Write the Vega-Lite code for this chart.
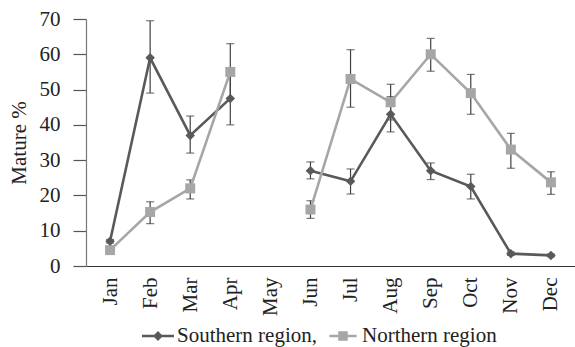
{
  "$schema": "https://vega.github.io/schema/vega-lite/v6.json",
  "width": 489,
  "height": 247,
  "autosize": "none",
  "padding": {"left": 86, "top": 19, "right": 0, "bottom": 81},
  "background": "white",
  "config": {
    "view": {"stroke": null},
    "font": "Liberation Serif",
    "axis": {"grid": false, "labelFont": "Liberation Serif", "titleFont": "Liberation Serif", "labelColor": "#222", "titleColor": "#222", "labelFontSize": 21, "titleFontSize": 21, "titleFontWeight": "normal", "labelOverlap": false},
    "axisX": {"labelAngle": -90, "labelAlign": "right", "labelBaseline": "middle", "labelPadding": 11, "ticks": false, "domainColor": "#333", "domainWidth": 1.2},
    "axisY": {"tickSize": 13, "labelPadding": 13, "titlePadding": 10, "domainColor": "#777", "tickColor": "#555", "tickWidth": 1.2, "domainWidth": 1.2, "tickCount": 8},
    "legend": {"labelFont": "Liberation Serif", "labelFontSize": 21, "labelColor": "#222", "labelOffset": 3, "columnPadding": 10, "padding": 0, "symbolSize": 1024, "symbolOpacity": 1, "symbolStrokeWidth": 0}
  },
  "data": {
    "values": [
      {"month": "Jan", "region": "Southern region", "value": 7, "lo": 6.5, "hi": 7.5},
      {"month": "Feb", "region": "Southern region", "value": 59, "lo": 49, "hi": 69.5},
      {"month": "Mar", "region": "Southern region", "value": 37, "lo": 32, "hi": 42.5},
      {"month": "Apr", "region": "Southern region", "value": 47.5, "lo": 40, "hi": 55},
      {"month": "May", "region": "Southern region", "value": null, "lo": null, "hi": null},
      {"month": "Jun", "region": "Southern region", "value": 27, "lo": 24.7, "hi": 29.5},
      {"month": "Jul", "region": "Southern region", "value": 24, "lo": 20.4, "hi": 27.5},
      {"month": "Aug", "region": "Southern region", "value": 43, "lo": 38, "hi": 48},
      {"month": "Sep", "region": "Southern region", "value": 27, "lo": 24.5, "hi": 29.2},
      {"month": "Oct", "region": "Southern region", "value": 22.5, "lo": 19, "hi": 26},
      {"month": "Nov", "region": "Southern region", "value": 3.5, "lo": 3, "hi": 4},
      {"month": "Dec", "region": "Southern region", "value": 3, "lo": 2.6, "hi": 3.4},
      {"month": "Jan", "region": "Northern region", "value": 4.5, "lo": 4, "hi": 5},
      {"month": "Feb", "region": "Northern region", "value": 15.3, "lo": 12, "hi": 18.2},
      {"month": "Mar", "region": "Northern region", "value": 22, "lo": 19, "hi": 24.4},
      {"month": "Apr", "region": "Northern region", "value": 55, "lo": 47.5, "hi": 63},
      {"month": "May", "region": "Northern region", "value": null, "lo": null, "hi": null},
      {"month": "Jun", "region": "Northern region", "value": 16, "lo": 13.5, "hi": 18.5},
      {"month": "Jul", "region": "Northern region", "value": 53, "lo": 45, "hi": 61.3},
      {"month": "Aug", "region": "Northern region", "value": 46.4, "lo": 41.4, "hi": 51.5},
      {"month": "Sep", "region": "Northern region", "value": 60, "lo": 55.2, "hi": 64.5},
      {"month": "Oct", "region": "Northern region", "value": 49, "lo": 43, "hi": 54.3},
      {"month": "Nov", "region": "Northern region", "value": 33, "lo": 27.7, "hi": 37.6},
      {"month": "Dec", "region": "Northern region", "value": 23.7, "lo": 20.3, "hi": 26.7}
    ]
  },
  "encoding": {
    "x": {
      "field": "month", "type": "ordinal", "title": null,
      "scale": {"type": "point", "padding": 0.6, "domain": ["Jan","Feb","Mar","Apr","May","Jun","Jul","Aug","Sep","Oct","Nov","Dec"]}
    }
  },
  "layer": [
    {
      "transform": [{"filter": "datum.lo != null"}],
      "mark": {"type": "rule", "color": "#404040", "strokeWidth": 1.2},
      "encoding": {
        "y": {
          "field": "lo", "type": "quantitative", "title": "Mature %",
          "scale": {"domain": [0, 70], "nice": false, "zero": true},
          "axis": {"values": [0,10,20,30,40,50,60,70]}
        },
        "y2": {"field": "hi"}
      }
    },
    {
      "transform": [{"filter": "datum.lo != null"}],
      "mark": {"type": "tick", "color": "#404040", "thickness": 1.2, "size": 8},
      "encoding": {
        "y": {"field": "lo", "type": "quantitative", "title": "Mature %", "axis": {"values": [0,10,20,30,40,50,60,70]}}
      }
    },
    {
      "transform": [{"filter": "datum.hi != null"}],
      "mark": {"type": "tick", "color": "#404040", "thickness": 1.2, "size": 8},
      "encoding": {
        "y": {"field": "hi", "type": "quantitative", "title": "Mature %", "axis": {"values": [0,10,20,30,40,50,60,70]}}
      }
    },
    {
      "mark": {"type": "line", "strokeWidth": 2.6, "invalid": "break-paths-show-domains"},
      "encoding": {
        "y": {"field": "value", "type": "quantitative", "title": "Mature %", "axis": {"values": [0,10,20,30,40,50,60,70]}},
        "color": {"field": "region", "type": "nominal", "title": null}
      }
    },
    {
      "transform": [{"filter": "datum.value != null"}],
      "mark": {"type": "point", "filled": true, "opacity": 0},
      "encoding": {
        "y": {"field": "value", "type": "quantitative", "title": "Mature %", "axis": {"values": [0,10,20,30,40,50,60,70]}},
        "color": {"field": "region", "type": "nominal", "title": null},
        "shape": {
          "field": "region", "type": "nominal", "title": null,
          "scale": {"domain": ["Southern region", "Northern region"], "range": ["M-1,-0.08H-0.23L0,-0.31L0.23,-0.08H1V0.08H0.23L0,0.31L-0.23,0.08H-1Z", "M-0.85,-0.08H-0.3V-0.3H0.3V-0.08H0.85V0.08H0.3V0.3H-0.3V0.08H-0.85Z"]},
          "legend": null
        }
      }
    },
    {
      "transform": [{"filter": "datum.region == 'Northern region' && datum.value != null"}],
      "mark": {"type": "point", "filled": true, "opacity": 1, "shape": "square", "size": 100},
      "encoding": {
        "y": {"field": "value", "type": "quantitative", "title": "Mature %", "axis": {"values": [0,10,20,30,40,50,60,70]}},
        "color": {"field": "region", "type": "nominal", "title": null}
      }
    },
    {
      "transform": [{"filter": "datum.region == 'Southern region' && datum.value != null"}],
      "mark": {"type": "point", "filled": true, "opacity": 1, "shape": "diamond", "size": 90},
      "encoding": {
        "y": {"field": "value", "type": "quantitative", "title": "Mature %", "axis": {"values": [0,10,20,30,40,50,60,70]}},
        "color": {
          "field": "region", "type": "nominal", "title": null,
          "scale": {"domain": ["Southern region", "Northern region"], "range": ["#595959", "#a6a6a6"]},
          "legend": {
            "orient": "none", "legendX": 56, "legendY": 301, "direction": "horizontal",
            "labelExpr": "datum.label == 'Southern region' ? 'Southern region,' : datum.label"
          }
        }
      }
    }
  ]
}
